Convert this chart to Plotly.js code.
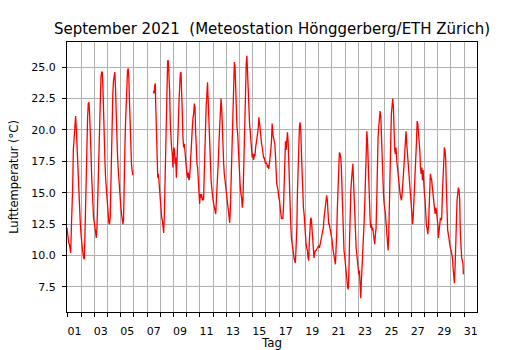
<!DOCTYPE html>
<html>
<head>
<meta charset="utf-8">
<script src="https://cdn.plot.ly/plotly-3.0.1.min.js"></script>
<style>
  html, body { margin: 0; padding: 0; background: #fff; }
  #chart { width: 530px; height: 350px; }
</style>
</head>
<body>
<div id="chart"></div>
<script>
// Day of September (fractional, 1 = Sept 1st 00:00); null marks the data gap
const days = [
  0.94, 0.99, 1.07, 1.12, 1.17, 1.22, 1.27, 1.32, 1.37, 1.42, 1.49, 1.54, 1.59, 1.64, 1.70, 1.75, 1.80, 1.85, 1.90, 1.95,
  2.00, 2.05, 2.12, 2.20, 2.25, 2.30, 2.35, 2.40, 2.45, 2.50, 2.55, 2.60, 2.65, 2.70, 2.75, 2.80, 2.85, 2.90, 2.95,
  3.01, 3.06, 3.11, 3.16, 3.21, 3.26, 3.31, 3.36, 3.41, 3.46, 3.51, 3.56, 3.61, 3.66, 3.71, 3.76, 3.81, 3.86, 3.91, 3.96,
  4.01, 4.06, 4.11, 4.16, 4.21, 4.26, 4.31, 4.36, 4.41, 4.46, 4.51, 4.56, 4.61, 4.66, 4.71, 4.76, 4.81, 4.86, 4.91, 4.97,
  5.02, 5.07, 5.12, 5.17, 5.22, 5.27, 5.32, 5.37, 5.42, 5.47, 5.52, 5.57, 5.62, 5.67, 5.72, 5.77, 5.82, 5.87, 5.92,
  6.70,
  7.48, 7.53, 7.58, 7.63, 7.65, 7.71, 7.73, 7.76, 7.81, 7.86, 7.91, 7.96,
  8.01, 8.06, 8.11, 8.16, 8.21, 8.26, 8.31, 8.36, 8.41, 8.46, 8.51, 8.56, 8.61, 8.66, 8.71, 8.76, 8.81, 8.86, 8.91, 8.96,
  9.02, 9.07, 9.12, 9.17, 9.22, 9.27, 9.32, 9.37, 9.42, 9.47, 9.52, 9.57, 9.62, 9.67, 9.72, 9.77, 9.82, 9.87, 9.92, 9.97,
  10.02, 10.07, 10.12, 10.17, 10.22, 10.27, 10.32, 10.38, 10.43, 10.48, 10.53, 10.58, 10.63, 10.68, 10.73, 10.78, 10.83, 10.88, 10.93, 10.98,
  11.03, 11.08, 11.13, 11.18, 11.23, 11.28, 11.33, 11.38, 11.43, 11.48, 11.53, 11.58, 11.63, 11.68, 11.75, 11.80, 11.85, 11.90, 11.95,
  12.00, 12.05, 12.10, 12.15, 12.20, 12.25, 12.30, 12.35, 12.40, 12.45, 12.50, 12.55, 12.60, 12.65, 12.70, 12.75, 12.80, 12.85, 12.90, 12.95,
  13.01, 13.06, 13.11, 13.16, 13.21, 13.26, 13.31, 13.36, 13.41, 13.46, 13.51, 13.56, 13.61, 13.66, 13.71, 13.76, 13.81, 13.86, 13.91, 13.96,
  14.01, 14.06, 14.11, 14.16, 14.21, 14.26, 14.31, 14.36, 14.41, 14.46, 14.51, 14.56, 14.61, 14.66, 14.71, 14.76, 14.81, 14.86, 14.91, 14.96,
  15.02, 15.07, 15.12, 15.17, 15.22, 15.27, 15.32, 15.37, 15.42, 15.47, 15.52, 15.57, 15.62, 15.67, 15.72, 15.77, 15.82, 15.87, 15.92, 15.97,
  16.02, 16.07, 16.12, 16.17, 16.22, 16.27, 16.32, 16.37, 16.42, 16.47, 16.55, 16.62, 16.67, 16.72, 16.77, 16.82, 16.87, 16.92, 16.97,
  17.03, 17.08, 17.13, 17.18, 17.23, 17.28, 17.33, 17.38, 17.43, 17.48, 17.53, 17.58, 17.63, 17.68, 17.73, 17.78, 17.83, 17.88, 17.93, 17.98,
  18.03, 18.08, 18.13, 18.18, 18.23, 18.28, 18.34, 18.39, 18.44, 18.49, 18.54, 18.59, 18.64, 18.69, 18.74, 18.79, 18.84, 18.89, 18.94, 18.99,
  19.04, 19.09, 19.14, 19.19, 19.24, 19.29, 19.34, 19.39, 19.44, 19.49, 19.54, 19.59, 19.64, 19.69, 19.74, 19.80, 19.85, 19.90, 19.95,
  20.00, 20.05, 20.10, 20.15, 20.20, 20.25, 20.30, 20.35, 20.40, 20.45, 20.50, 20.55, 20.60, 20.65, 20.70, 20.75, 20.80, 20.85, 20.90, 20.95,
  21.01, 21.06, 21.11, 21.16, 21.21, 21.26, 21.31, 21.36, 21.41, 21.46, 21.51, 21.56, 21.61, 21.66, 21.71, 21.76, 21.81, 21.86, 21.91, 21.96,
  22.01, 22.06, 22.13, 22.18, 22.23, 22.28, 22.33, 22.38, 22.43, 22.48, 22.53, 22.58, 22.63, 22.68, 22.73, 22.78, 22.83, 22.88, 22.93, 22.98,
  23.03, 23.08, 23.13, 23.18, 23.23, 23.28, 23.34, 23.39, 23.44, 23.49, 23.54, 23.59, 23.64, 23.69, 23.74, 23.79, 23.84, 23.89, 23.94, 23.99,
  24.04, 24.09, 24.14, 24.19, 24.24, 24.29, 24.34, 24.39, 24.44, 24.49, 24.54, 24.59, 24.64, 24.70, 24.75, 24.80, 24.85, 24.90, 24.95,
  25.00, 25.05, 25.10, 25.15, 25.20, 25.25, 25.30, 25.35, 25.40, 25.45, 25.50, 25.55, 25.60, 25.65, 25.70, 25.75, 25.80, 25.85, 25.90, 25.95,
  26.01, 26.06, 26.11, 26.16, 26.21, 26.26, 26.31, 26.36, 26.41, 26.46, 26.51, 26.56, 26.61, 26.66, 26.71, 26.76, 26.81, 26.86, 26.91, 26.96,
  27.01, 27.06, 27.11, 27.16, 27.21, 27.26, 27.32, 27.40, 27.45, 27.50, 27.55, 27.60, 27.65, 27.70, 27.75, 27.80, 27.85, 27.90, 27.95,
  28.00, 28.05, 28.10, 28.15, 28.20, 28.25, 28.30, 28.35, 28.40, 28.45, 28.50, 28.55, 28.60, 28.65, 28.71, 28.76, 28.81, 28.86, 28.91, 28.96,
  29.01, 29.06, 29.11, 29.16, 29.21, 29.26, 29.31, 29.36, 29.41, 29.46, 29.51, 29.56, 29.61, 29.66, 29.71, 29.76, 29.81, 29.86, 29.91, 29.96,
  30.02, 30.07, 30.12, 30.17, 30.22, 30.27, 30.32, 30.37, 30.42, 30.47, 30.52, 30.57, 30.62, 30.67, 30.72, 30.77, 30.82, 30.87, 30.92, 30.95
];

// Air temperature (°C) at each time above
const temps = [
  12.2, 11.4, 11.0, 10.9, 10.4, 10.2, 12.2, 13.3, 15.4, 18.4, 20.0, 21.0, 21.1, 20.2, 18.4, 17.0, 15.4, 14.1, 13.3, 12.5,
  11.7, 10.9, 10.4, 9.8, 9.7, 11.7, 14.6, 17.0, 19.1, 21.0, 22.1, 22.2, 21.3, 20.2, 18.4, 16.5, 14.9, 14.1, 13.0,
  12.6, 12.2, 12.0, 11.4, 12.2, 14.4, 16.2, 18.4, 19.9, 21.8, 24.2, 24.6, 24.6, 23.4, 20.7, 19.1, 17.6, 16.2, 15.2, 14.4,
  13.8, 13.3, 12.6, 12.5, 13.0, 16.0, 19.1, 21.3, 22.9, 23.9, 24.5, 24.6, 23.4, 21.0, 18.9, 18.1, 17.0, 16.0, 15.2, 14.4,
  13.8, 13.3, 12.8, 12.5, 12.8, 14.6, 18.4, 20.5, 22.3, 24.2, 24.7, 24.9, 24.2, 22.3, 19.9, 18.1, 17.3, 16.8, 16.4,
  null,
  23.1, 22.9, 23.5, 23.7, 22.3, 20.2, 18.4, 16.5, 16.2, 16.5, 15.7, 14.6,
  14.1, 13.6, 13.0, 12.8, 12.2, 11.8, 13.3, 15.4, 18.1, 20.7, 23.7, 25.5, 25.5, 24.5, 23.1, 20.5, 18.9, 18.6, 18.1, 17.0,
  18.6, 18.4, 17.3, 17.8, 16.2, 17.3, 18.6, 20.5, 22.3, 23.9, 24.5, 24.6, 23.4, 21.3, 19.4, 18.6, 18.9, 18.1, 17.8, 16.8,
  16.5, 16.2, 16.6, 16.0, 16.2, 17.0, 18.4, 19.1, 20.2, 21.0, 21.3, 22.1, 21.8, 19.9, 18.1, 17.3, 17.0, 15.7, 14.6, 14.1,
  14.9, 14.6, 14.9, 14.4, 14.6, 14.4, 16.5, 19.1, 21.0, 22.0, 22.8, 23.8, 22.3, 20.5, 19.1, 17.3, 16.0, 15.4, 14.6,
  14.4, 14.1, 13.8, 13.6, 13.3, 14.4, 15.2, 16.0, 17.6, 19.1, 20.7, 22.3, 22.5, 21.8, 19.7, 18.4, 17.3, 16.5, 16.0, 15.4,
  14.9, 14.4, 13.8, 13.6, 13.0, 12.6, 13.8, 16.0, 18.6, 21.0, 23.4, 24.5, 25.4, 25.0, 23.9, 21.8, 20.2, 19.7, 18.6, 17.0,
  16.0, 15.4, 14.9, 14.6, 13.8, 14.4, 16.5, 19.1, 21.8, 23.7, 25.3, 25.9, 24.2, 22.9, 21.0, 20.5, 19.9, 19.1, 18.6, 17.8,
  18.1, 17.6, 18.1, 17.9, 18.6, 18.9, 19.1, 19.7, 20.2, 21.0, 20.5, 19.9, 19.1, 18.9, 18.6, 18.1, 17.8, 17.8, 17.6, 17.3,
  17.4, 17.3, 17.0, 17.2, 16.9, 17.3, 17.6, 18.4, 19.1, 20.5, 19.5, 19.2, 18.9, 18.0, 16.0, 15.7, 15.4, 15.2, 14.6,
  14.4, 13.8, 13.0, 12.9, 13.0, 12.9, 13.8, 15.4, 17.0, 19.1, 18.4, 19.4, 19.8, 19.1, 17.0, 14.9, 13.3, 12.5, 11.4, 10.9,
  10.4, 10.1, 9.8, 9.6, 9.4, 10.6, 12.2, 15.2, 17.3, 20.2, 20.3, 20.6, 19.9, 18.1, 16.0, 14.1, 13.8, 13.3, 12.2, 11.4,
  10.9, 10.6, 10.4, 9.8, 9.6, 11.2, 12.8, 13.0, 12.9, 12.2, 11.2, 10.4, 9.8, 10.1, 10.4, 10.4, 10.5, 10.6, 10.6,
  10.8, 10.6, 10.8, 11.2, 11.4, 11.7, 12.0, 12.2, 13.0, 13.6, 14.1, 14.6, 14.8, 14.4, 13.3, 12.5, 12.5, 12.2, 12.0, 11.7,
  11.2, 10.6, 10.1, 9.8, 9.6, 9.3, 10.1, 11.7, 13.8, 16.0, 18.1, 18.2, 18.1, 17.8, 17.0, 14.9, 12.8, 11.2, 10.4, 10.0,
  9.3, 8.6, 8.0, 7.5, 7.3, 8.5, 11.2, 14.1, 15.2, 16.0, 17.0, 17.3, 16.0, 14.4, 12.8, 11.4, 10.6, 10.1, 9.6, 9.0,
  8.5, 8.8, 8.0, 6.6, 8.0, 9.0, 10.1, 11.2, 12.8, 14.4, 17.0, 19.1, 19.9, 19.1, 17.0, 15.2, 13.8, 12.8, 12.2, 12.5,
  12.0, 12.2, 11.7, 11.2, 10.9, 11.7, 12.2, 14.4, 18.4, 19.4, 20.2, 21.3, 21.5, 21.0, 19.1, 17.0, 16.0, 14.9, 14.1,
  13.8, 13.3, 12.5, 11.7, 11.2, 10.4, 11.7, 15.2, 17.0, 19.1, 21.3, 22.1, 22.5, 21.8, 18.9, 18.4, 18.1, 18.6, 17.6, 17.0,
  16.5, 16.0, 15.4, 14.9, 14.6, 14.4, 14.9, 16.0, 17.0, 17.6, 18.1, 19.1, 19.9, 18.9, 18.1, 17.6, 16.5, 16.0, 15.2, 14.4,
  13.8, 13.0, 12.5, 13.3, 14.4, 15.7, 16.5, 19.1, 20.7, 20.5, 19.7, 19.1, 18.4, 17.0, 16.5, 17.0, 16.0, 16.8, 15.4,
  14.9, 14.4, 12.8, 12.4, 12.2, 11.7, 12.2, 13.8, 16.0, 16.5, 16.2, 16.0, 15.4, 14.9, 14.4, 13.8, 13.3, 13.8, 13.6, 13.0,
  12.5, 11.4, 12.2, 12.8, 13.0, 12.8, 13.0, 14.9, 16.5, 17.6, 18.6, 18.4, 17.6, 15.4, 13.3, 12.0, 11.7, 11.2, 10.9, 10.6,
  10.4, 10.1, 9.8, 9.0, 8.5, 7.8, 9.0, 11.2, 13.6, 14.4, 14.9, 15.4, 15.2, 14.4, 11.7, 10.1, 9.8, 9.6, 9.3, 8.5
];

// Axis labels
const dayLabels = ['01','03','05','07','09','11','13','15','17','19','21','23','25','27','29','31'];
const dayLabelNumbers = [1, 3, 5, 7, 9, 11, 13, 15, 17, 19, 21, 23, 25, 27, 29, 31];
const tempTicks = [7.5, 10.0, 12.5, 15.0, 17.5, 20.0, 22.5, 25.0];

const font = 'DejaVu Sans, Arial, sans-serif';

const trace = {
  x: days,
  y: temps,
  type: 'scatter',
  mode: 'lines',
  connectgaps: false,
  line: { color: '#ff0000', width: 1.3 },
  hoverinfo: 'skip',
  showlegend: false
};

const layout = {
  width: 530,
  height: 350,
  paper_bgcolor: '#ffffff',
  plot_bgcolor: '#ffffff',
  margin: { l: 67, r: 53, t: 42, b: 38, pad: 0 },
  font: { family: font, size: 11, color: '#000000' },
  title: {
    text: 'September 2021  (Meteostation Hönggerberg/ETH Zürich)',
    font: { family: font, size: 15, color: '#000000' },
    xref: 'paper', x: 0.5, xanchor: 'center',
    yref: 'container', y: 0.918, yanchor: 'middle'
  },
  xaxis: {
    range: [0.94, 31.98],
    tickmode: 'array',
    tickvals: dayLabelNumbers.map(d => d + 0.5),
    ticktext: dayLabels,
    ticks: '',
    ticklabelstandoff: 9,
    showgrid: false,
    zeroline: false,
    showline: true, mirror: true, linecolor: '#000000', linewidth: 1,
    tickfont: { family: font, size: 11, color: '#000000' },
    minor: {
      tickmode: 'linear', tick0: 0, dtick: 1,
      ticks: 'outside', ticklen: 4, tickwidth: 1, tickcolor: '#000000',
      showgrid: true, gridcolor: '#b0b0b0', gridwidth: 1
    },
    title: { text: 'Tag', font: { family: font, size: 11.8, color: '#000000' }, standoff: 5 },
    automargin: false
  },
  yaxis: {
    range: [5.5, 27.0],
    tickmode: 'array',
    tickvals: tempTicks,
    ticktext: tempTicks.map(v => v.toFixed(1)),
    ticks: 'outside', ticklen: 4, tickwidth: 1, tickcolor: '#000000',
    ticklabelstandoff: 4,
    showgrid: true, gridcolor: '#b0b0b0', gridwidth: 1,
    zeroline: false,
    showline: true, mirror: true, linecolor: '#000000', linewidth: 1,
    tickfont: { family: font, size: 11, color: '#000000' },
    title: { text: 'Lufttemperatur (°C)', font: { family: font, size: 11.5, color: '#000000' }, standoff: 10 },
    automargin: false
  }
};

Plotly.newPlot('chart', [trace], layout, { displayModeBar: false, staticPlot: true });
</script>
</body>
</html>
